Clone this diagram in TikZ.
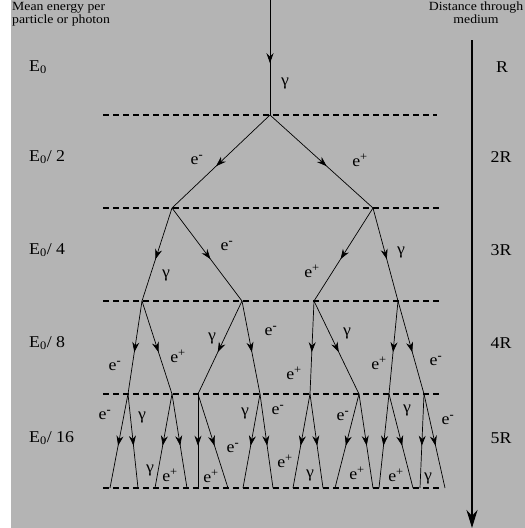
\documentclass[tikz,border=0pt]{standalone}
\usepackage{fontspec}
\setmainfont{Liberation Serif}
\newfontfamily\headfont[FakeStretch=1.1]{Liberation Serif}
\newfontfamily\lblfont[FakeStretch=1.08]{Liberation Serif}
\usetikzlibrary{arrows.meta,decorations.markings}

\definecolor{bg}{RGB}{180,180,180}
\newcommand{\elec}{e\textsuperscript{\textbf{-}}}
\newcommand{\posi}{e\textsuperscript{+}}
\newcommand{\phot}{γ}

\begin{document}
\begin{tikzpicture}[
  x=1pt, y=-1pt,
  track/.style={line width=0.7pt, postaction={decorate},
    decoration={markings, mark=at position 0.55 with {\arrow{Stealth[length=10pt,width=7pt]}}}},
  level/.style={line width=1.6pt, dash pattern=on 6pt off 4pt},
  lbl/.style={font=\lblfont\fontsize{16.5}{18}\selectfont, inner sep=0pt},
  hdr/.style={font=\headfont\fontsize{12.5}{13}\selectfont, inner sep=0pt},
  >=Stealth
]
  \useasboundingbox (0,0) rectangle (525,528);
  \fill[white] (0,0) rectangle (11,528);
  \fill[bg] (11,0) rectangle (525,528);

  % headings
  \node[hdr, align=left, anchor=north west] (enhead) at (12,2) {Mean energy per\\particle or photon};
  \node[hdr, align=center, anchor=north] (dhead) at (476,2) {Distance through\\medium};

  % energy per level
  \node[lbl, anchor=west] (en0) at (29,67) {E\textsubscript{0}};
  \node[lbl, anchor=west] (en1) at (29,157) {E\textsubscript{0}/ 2};
  \node[lbl, anchor=west] (en2) at (29,250) {E\textsubscript{0}/ 4};
  \node[lbl, anchor=west] (en3) at (29,343) {E\textsubscript{0}/ 8};
  \node[lbl, anchor=west] (en4) at (29,438) {E\textsubscript{0}/ 16};

  % distance
  \node[lbl] (ds0) at (502,67) {R};
  \node[lbl] (ds1) at (501,157) {2R};
  \node[lbl] (ds2) at (501,250) {3R};
  \node[lbl] (ds3) at (501,343) {4R};
  \node[lbl] (ds4) at (501,438) {5R};
  \coordinate (dtop) at (472,40);
  \coordinate (dbot) at (472,528);
  \draw[line width=2pt, -{Stealth[length=18pt,width=11pt]}] (dtop) -- (dbot);

  % level lines
  \draw[level] (103,115) -- (437,115);
  \draw[level] (103,208) -- (440,208);
  \draw[level] (103,301) -- (440,301);
  \draw[level] (103,394) -- (440,394);
  \draw[level] (103,488) -- (440,488);

  % vertices
  \coordinate (top) at (270,0);
  \coordinate (p0) at (270,115);
  \coordinate (p1) at (172,208);
  \coordinate (p2) at (373,208);
  \coordinate (q1) at (142,301);
  \coordinate (q2) at (242,301);
  \coordinate (q3) at (314,301);
  \coordinate (q4) at (398,301);
  \coordinate (r1) at (128,394);
  \coordinate (r2) at (172,394);
  \coordinate (r3) at (198,394);
  \coordinate (r4) at (260,394);
  \coordinate (r5) at (310,394);
  \coordinate (r6) at (359,394);
  \coordinate (r7) at (389,394);
  \coordinate (r8) at (424,394);
  \coordinate (t1) at (110,488);
  \coordinate (t2) at (138,488);
  \coordinate (t3) at (155,488);
  \coordinate (t4) at (187,488);
  \coordinate (t5) at (198,488);
  \coordinate (t6) at (228,488);
  \coordinate (t7) at (243,488);
  \coordinate (t8) at (273,488);
  \coordinate (t9) at (293,488);
  \coordinate (t10) at (323,488);
  \coordinate (t11) at (335,488);
  \coordinate (t12) at (373,488);
  \coordinate (t13) at (379,488);
  \coordinate (t14) at (413,488);
  \coordinate (t15) at (420,488);
  \coordinate (t16) at (445,488);

  % shower
  \draw[track, line width=0.9pt] (top) -- (p0);
  \draw[track] (p0) -- (p1);
  \draw[track] (p0) -- (p2);
  \draw[track] (p1) -- (q1);
  \draw[track] (p1) -- (q2);
  \draw[track] (p2) -- (q3);
  \draw[track] (p2) -- (q4);
  \draw[track] (q1) -- (r1);
  \draw[track] (q1) -- (r2);
  \draw[track] (q2) -- (r3);
  \draw[track] (q2) -- (r4);
  \draw[track] (q3) -- (r5);
  \draw[track] (q3) -- (r6);
  \draw[track] (q4) -- (r7);
  \draw[track] (q4) -- (r8);
  \draw[track] (r1) -- (t1);
  \draw[track] (r1) -- (t2);
  \draw[track] (r2) -- (t3);
  \draw[track] (r2) -- (t4);
  \draw[track] (r3) -- (t5);
  \draw[track] (r3) -- (t6);
  \draw[track] (r4) -- (t7);
  \draw[track] (r4) -- (t8);
  \draw[track] (r5) -- (t9);
  \draw[track] (r5) -- (t10);
  \draw[track] (r6) -- (t11);
  \draw[track] (r6) -- (t12);
  \draw[track] (r7) -- (t13);
  \draw[track] (r7) -- (t14);
  \draw[track] (r8) -- (t15);
  \draw[track] (r8) -- (t16);

  % particle labels
  \node[lbl] (g0) at (285,83) {\phot};
  \node[lbl] (m1) at (197,160) {\elec};
  \node[lbl] (m2) at (360,160) {\posi};
  \node[lbl] (m3) at (166,275) {\phot};
  \node[lbl] (m4) at (227,246) {\elec};
  \node[lbl] (m5) at (312,271) {\posi};
  \node[lbl] (m6) at (401,252) {\phot};
  \node[lbl] (m7) at (115,366) {\elec};
  \node[lbl] (m8) at (178,356) {\posi};
  \node[lbl] (m9) at (212,338) {\phot};
  \node[lbl] (m10) at (271,331) {\elec};
  \node[lbl] (m11) at (294,373) {\posi};
  \node[lbl] (m12) at (347,333) {\phot};
  \node[lbl] (m13) at (379,363) {\posi};
  \node[lbl] (m14) at (436,361) {\elec};
  \node[lbl] (m15) at (105,415) {\elec};
  \node[lbl] (m16) at (142,417) {\phot};
  \node[lbl] (m17) at (150,470) {\phot};
  \node[lbl] (m18) at (170,475) {\posi};
  \node[lbl] (m19) at (233,448) {\elec};
  \node[lbl] (m20) at (211,476) {\posi};
  \node[lbl] (m21) at (245,413) {\phot};
  \node[lbl] (m22) at (278,410) {\elec};
  \node[lbl] (m23) at (285,461) {\posi};
  \node[lbl] (m24) at (310,475) {\phot};
  \node[lbl] (m25) at (343,416) {\elec};
  \node[lbl] (m26) at (357,473) {\posi};
  \node[lbl] (m27) at (407,410) {\phot};
  \node[lbl] (m28) at (396,475) {\posi};
  \node[lbl] (m29) at (448,420) {\elec};
  \node[lbl] (m30) at (428,478) {\phot};
\end{tikzpicture}
\end{document}
